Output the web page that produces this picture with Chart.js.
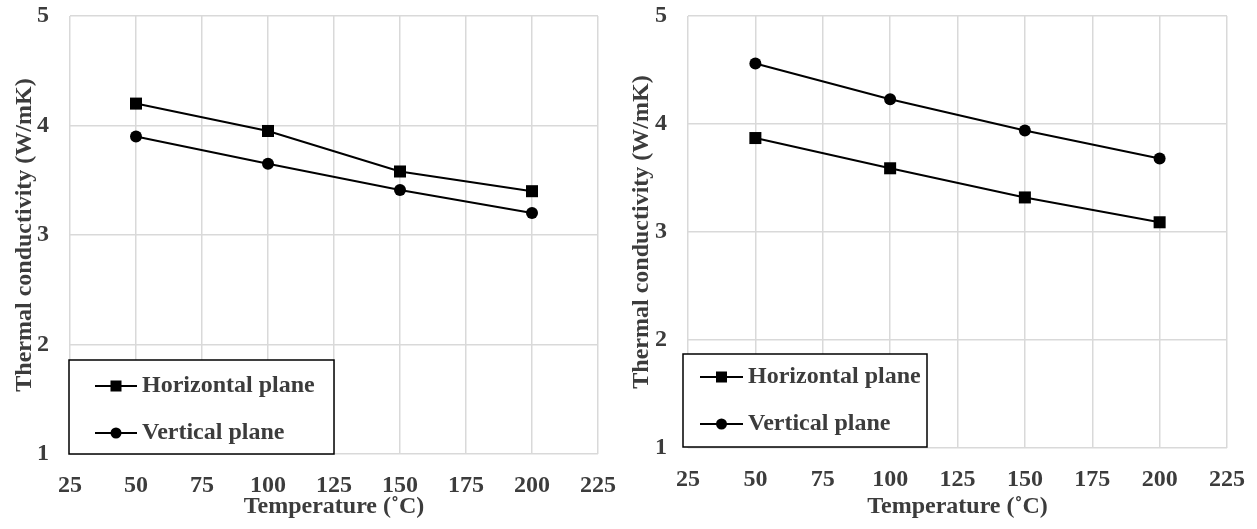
<!DOCTYPE html>
<html>
<head>
<meta charset="utf-8">
<script src="https://cdn.jsdelivr.net/npm/chart.js@4/dist/chart.umd.min.js"></script>
<style>
  body { margin: 0; background: #fff; }
  .box { position: absolute; top: 0; height: 529px; }
  #wrapA { left: 0; width: 620px; }
  #wrapB { left: 620px; width: 637px; }
</style>
</head>
<body>
<div class="box" id="wrapA"><canvas id="chartA"></canvas></div>
<div class="box" id="wrapB"><canvas id="chartB"></canvas></div>
<script>
  // temperatures (°C)
  const temps = [50, 100, 150, 200];
  const seriesNames = ["Horizontal plane", "Vertical plane"];

  // left panel
  const leftHorizontal = [4.20, 3.95, 3.58, 3.40];
  const leftVertical = [3.90, 3.65, 3.41, 3.20];

  // right panel
  const rightHorizontal = [3.87, 3.59, 3.32, 3.09];
  const rightVertical = [4.56, 4.23, 3.94, 3.68];

  const xTicks = [25, 50, 75, 100, 125, 150, 175, 200, 225];
  const yTicks = [1, 2, 3, 4, 5];

  const textColor = "#3c3c3c";
  const fontFamily = "'Liberation Serif', 'Times New Roman', serif";
  const fontSize = 24;

  // legend drawn as a framed box inside the plot area
  const boxLegend = {
    id: "boxLegend",
    afterDraw(chart, args, opts) {
      const ctx = chart.ctx;
      ctx.save();
      ctx.fillStyle = "#fff";
      ctx.fillRect(opts.x1, opts.y1, opts.x2 - opts.x1, opts.y2 - opts.y1);
      ctx.strokeStyle = "#000";
      ctx.lineWidth = 1.5;
      ctx.strokeRect(opts.x1, opts.y1, opts.x2 - opts.x1, opts.y2 - opts.y1);
      chart.data.datasets.forEach((ds, i) => {
        const y = opts.rows[i];
        ctx.strokeStyle = "#000";
        ctx.lineWidth = 2;
        ctx.beginPath();
        ctx.moveTo(opts.lineX1, y);
        ctx.lineTo(opts.lineX2, y);
        ctx.stroke();
        ctx.fillStyle = "#000";
        const mx = (opts.lineX1 + opts.lineX2) / 2;
        if (ds.pointStyle === "rect") {
          ctx.fillRect(mx - 5.5, y - 5.5, 11, 11);
        } else {
          ctx.beginPath();
          ctx.arc(mx, y, 5.5, 0, Math.PI * 2);
          ctx.fill();
        }
        ctx.fillStyle = textColor;
        ctx.font = "bold " + fontSize + "px " + fontFamily;
        ctx.textBaseline = "middle";
        ctx.textAlign = "left";
        ctx.fillText(ds.label, opts.textX, y);
      });
      ctx.restore();
    }
  };

  function makeDataset(label, values, style) {
    return {
      label: label,
      data: temps.map((t, i) => ({ x: t, y: values[i] })),
      borderColor: "#000",
      backgroundColor: "#000",
      borderWidth: 2,
      pointStyle: style,
      pointRadius: style === "rect" ? 8.5 : 6,
      pointBorderWidth: 0,
      tension: 0
    };
  }

  function makeChart(id, horiz, vert, geo) {
    const font = { family: fontFamily, size: fontSize, weight: "bold" };
    return new Chart(document.getElementById(id), {
      type: "line",
      data: {
        datasets: [
          makeDataset(seriesNames[0], horiz, "rect"),
          makeDataset(seriesNames[1], vert, "circle")
        ]
      },
      plugins: [boxLegend],
      options: {
        responsive: true,
        maintainAspectRatio: false,
        animation: false,
        layout: { padding: { top: geo.padTop, right: geo.padRight, bottom: 0, left: 0 } },
        plugins: {
          legend: { display: false },
          tooltip: { enabled: false },
          boxLegend: geo.legend
        },
        scales: {
          x: {
            type: "linear",
            min: xTicks[0],
            max: xTicks[xTicks.length - 1],
            afterBuildTicks: (s) => { s.ticks = xTicks.map(v => ({ value: v })); },
            afterFit: (s) => { s.height = geo.xHeight; s.paddingLeft = 0; s.paddingRight = 0; },
            grid: { color: "#d9d9d9", lineWidth: 1.5, drawTicks: false },
            border: { display: false },
            ticks: { padding: 17, color: textColor, font: font, maxRotation: 0 },
            title: {
              display: true,
              text: "Temperature (˚C)",
              color: textColor,
              font: font,
              padding: { top: 0, bottom: 8 }
            }
          },
          y: {
            min: yTicks[0],
            max: yTicks[yTicks.length - 1],
            afterBuildTicks: (s) => { s.ticks = yTicks.map(v => ({ value: v })); },
            afterFit: (s) => { s.width = geo.yWidth; s.paddingTop = 0; s.paddingBottom = 0; },
            grid: { color: "#d9d9d9", lineWidth: 1.5, drawTicks: false },
            border: { display: false },
            ticks: { padding: 21, color: textColor, font: font },
            title: {
              display: true,
              text: "Thermal conductivity (W/mK)",
              color: textColor,
              font: font,
              padding: { top: geo.titlePad, bottom: 0 }
            }
          }
        }
      }
    });
  }

  makeChart("chartA", leftHorizontal, leftVertical, {
    padTop: 16, padRight: 22, xHeight: 75, yWidth: 70, titlePad: 10,
    legend: { x1: 69, y1: 360, x2: 334, y2: 454, rows: [386, 433], lineX1: 95, lineX2: 137, textX: 142 }
  });

  makeChart("chartB", rightHorizontal, rightVertical, {
    padTop: 16, padRight: 30, xHeight: 81, yWidth: 68, titlePad: 7,
    legend: { x1: 63, y1: 354, x2: 307, y2: 447, rows: [377, 424], lineX1: 80, lineX2: 123, textX: 128 }
  });
</script>
</body>
</html>
